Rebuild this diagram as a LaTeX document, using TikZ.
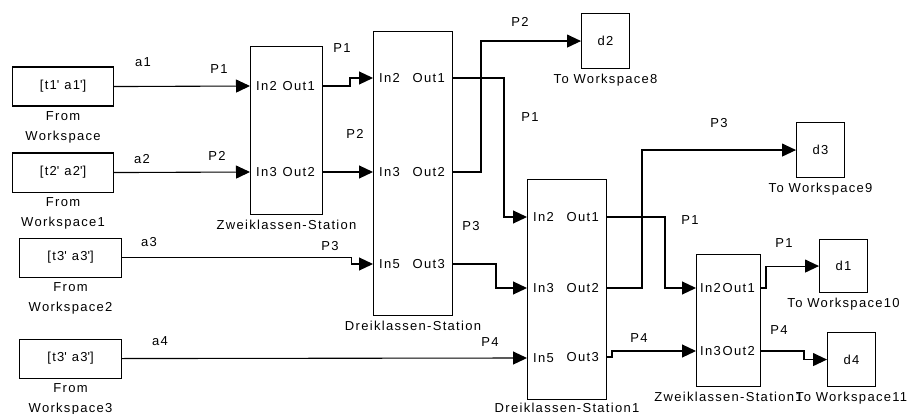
\documentclass[tikz,border=0pt]{standalone}
\usepackage{fontspec}
\setmainfont{Liberation Sans}[LetterSpace=10]
\usetikzlibrary{positioning,arrows.meta}
\newcommand{\qs}{\textquotesingle}

\begin{document}
\begin{tikzpicture}[
      x=1pt,y=-1pt,
      every node/.style={font=\fontsize{13}{20}\selectfont},
      blk/.style={draw,line width=1.1pt,inner sep=0pt,anchor=north west},
      inport/.style={anchor=west,inner xsep=6pt,inner ysep=0pt},
      outport/.style={anchor=east,inner xsep=7pt,inner ysep=0pt},
      cap/.style={align=center,inner sep=0pt,below=4.5pt of #1},
      lbl/.style={inner sep=0pt},
      sig/.style={line width=1.1pt,-{Triangle[length=14pt,width=13pt]}}]
    \useasboundingbox (0,0) rectangle (909,414);
    % sources
    \node[blk,minimum width=101pt,minimum height=39pt] (fw1) at (12,66.5) {[t1\qs{} a1\qs]};
    \node[blk,minimum width=101pt,minimum height=39pt] (fw2) at (12,152.5) {[t2\qs{} a2\qs]};
    \node[blk,minimum width=102pt,minimum height=39pt] (fw3) at (19,237.5) {[t3\qs{} a3\qs]};
    \node[blk,minimum width=102pt,minimum height=39pt] (fw4) at (19,338.5) {[t3\qs{} a3\qs]};
    \node[cap=fw1] (fw1cap) {From\\Workspace};
    \node[cap=fw2] (fw2cap) {From\\Workspace1};
    \node[cap=fw3] (fw3cap) {From\\Workspace2};
    \node[cap=fw4] (fw4cap) {From\\Workspace3};
    % stations
    \node[blk,minimum width=72pt,minimum height=168pt] (zw) at (250,46) {};
    \node[blk,minimum width=79pt,minimum height=284pt] (dr) at (373,31) {};
    \node[blk,minimum width=79pt,minimum height=220pt] (dr1) at (527,179) {};
    \node[blk,minimum width=64pt,minimum height=132pt] (zw1) at (696,254) {};
    \node[cap=zw] (zwcap) {Zweiklassen-Station};
    \node[cap=dr] (drcap) {Dreiklassen-Station};
    \node[cap=dr1,below=2.5pt of dr1] (dr1cap) {Dreiklassen-Station1};
    \node[cap=zw1] (zw1cap) {Zweiklassen-Station1};
    \node[inport] (zwi2) at (250,86) {In2};
    \node[inport] (zwi3) at (250,172) {In3};
    \node[outport] (zwo1) at (322,86) {Out1};
    \node[outport] (zwo2) at (322,172) {Out2};
    \node[inport] (dri2) at (373,78) {In2};
    \node[inport] (dri3) at (373,172) {In3};
    \node[inport] (dri5) at (373,264) {In5};
    \node[outport] (dro1) at (452,78) {Out1};
    \node[outport] (dro2) at (452,172) {Out2};
    \node[outport] (dro3) at (452,264) {Out3};
    \node[inport] (dr1i2) at (527,217) {In2};
    \node[inport] (dr1i3) at (527,288) {In3};
    \node[inport] (dr1i5) at (527,358) {In5};
    \node[outport] (dr1o1) at (606,217) {Out1};
    \node[outport] (dr1o2) at (606,288) {Out2};
    \node[outport] (dr1o3) at (606,357) {Out3};
    \node[inport,inner xsep=4pt] (zw1i2) at (696,288) {In2};
    \node[inport,inner xsep=4pt] (zw1i3) at (696,351) {In3};
    \node[outport,inner xsep=5pt] (zw1o1) at (760,288) {Out1};
    \node[outport,inner xsep=5pt] (zw1o2) at (760,351) {Out2};
    % sinks
    \node[blk,minimum width=48pt,minimum height=55pt] (d2) at (581,13) {d2};
    \node[blk,minimum width=48pt,minimum height=55pt] (d3) at (796,122) {d3};
    \node[blk,minimum width=48pt,minimum height=53pt] (d1) at (819,239) {d1};
    \node[blk,minimum width=48pt,minimum height=54pt] (d4) at (827,332) {d4};
    \node[cap=d2] (d2cap) {To Workspace8};
    \node[cap=d3] (d3cap) {To Workspace9};
    \node[cap=d1] (d1cap) {To Workspace10};
    \node[cap=d4] (d4cap) {To Workspace11};
    % signals
    \draw[sig] (fw1.east) -- (zwi2.west);
    \draw[sig] (fw2.east) -- (zwi3.west);
    \draw[sig] (fw3.east) -- ++(229,0) |- (dri5.west);
    \draw[sig] (fw4.east) -- (dr1i5.west);
    \draw[sig] (zwo1.east) -- ++(28,0) |- (dri2.west);
    \draw[sig] (zwo2.east) -- (dri3.west);
    \draw[sig] (dro1.east) -- ++(52,0) |- (dr1i2.west);
    \draw[sig] (dro2.east) -- ++(29,0) |- (d2.west);
    \draw[sig] (dro3.east) -- ++(44,0) |- (dr1i3.west);
    \draw[sig] (dr1o1.east) -- ++(59,0) |- (zw1i2.west);
    \draw[sig] (dr1o2.east) -- ++(36,0) |- (d3.west);
    \draw[sig] (dr1o3.east) -- ++(6,0) |- (zw1i3.west);
    \draw[sig] (zw1o1.east) -- ++(6,0) |- (d1.west);
    \draw[sig] (zw1o2.east) -- ++(44,0) |- (d4.west);
    % signal names
    \node[lbl] (la1) at (143,62) {a1};
    \node[lbl] (la2) at (142,159) {a2};
    \node[lbl] (la3) at (149,242) {a3};
    \node[lbl] (la4) at (160,341) {a4};
    \node[lbl] (lp1a) at (219,69) {P1};
    \node[lbl] (lp2a) at (217,156) {P2};
    \node[lbl] (lp1b) at (342,48) {P1};
    \node[lbl] (lp2b) at (355,134) {P2};
    \node[lbl] (lp3a) at (330,246) {P3};
    \node[lbl] (lp4a) at (490,342) {P4};
    \node[lbl] (lp2c) at (520,22) {P2};
    \node[lbl] (lp1c) at (530,117) {P1};
    \node[lbl] (lp3b) at (471,226) {P3};
    \node[lbl] (lp3c) at (719,123) {P3};
    \node[lbl] (lp1d) at (690,220) {P1};
    \node[lbl] (lp4b) at (639,338) {P4};
    \node[lbl] (lp1e) at (784,243) {P1};
    \node[lbl] (lp4c) at (779,330) {P4};
\end{tikzpicture}
\end{document}
